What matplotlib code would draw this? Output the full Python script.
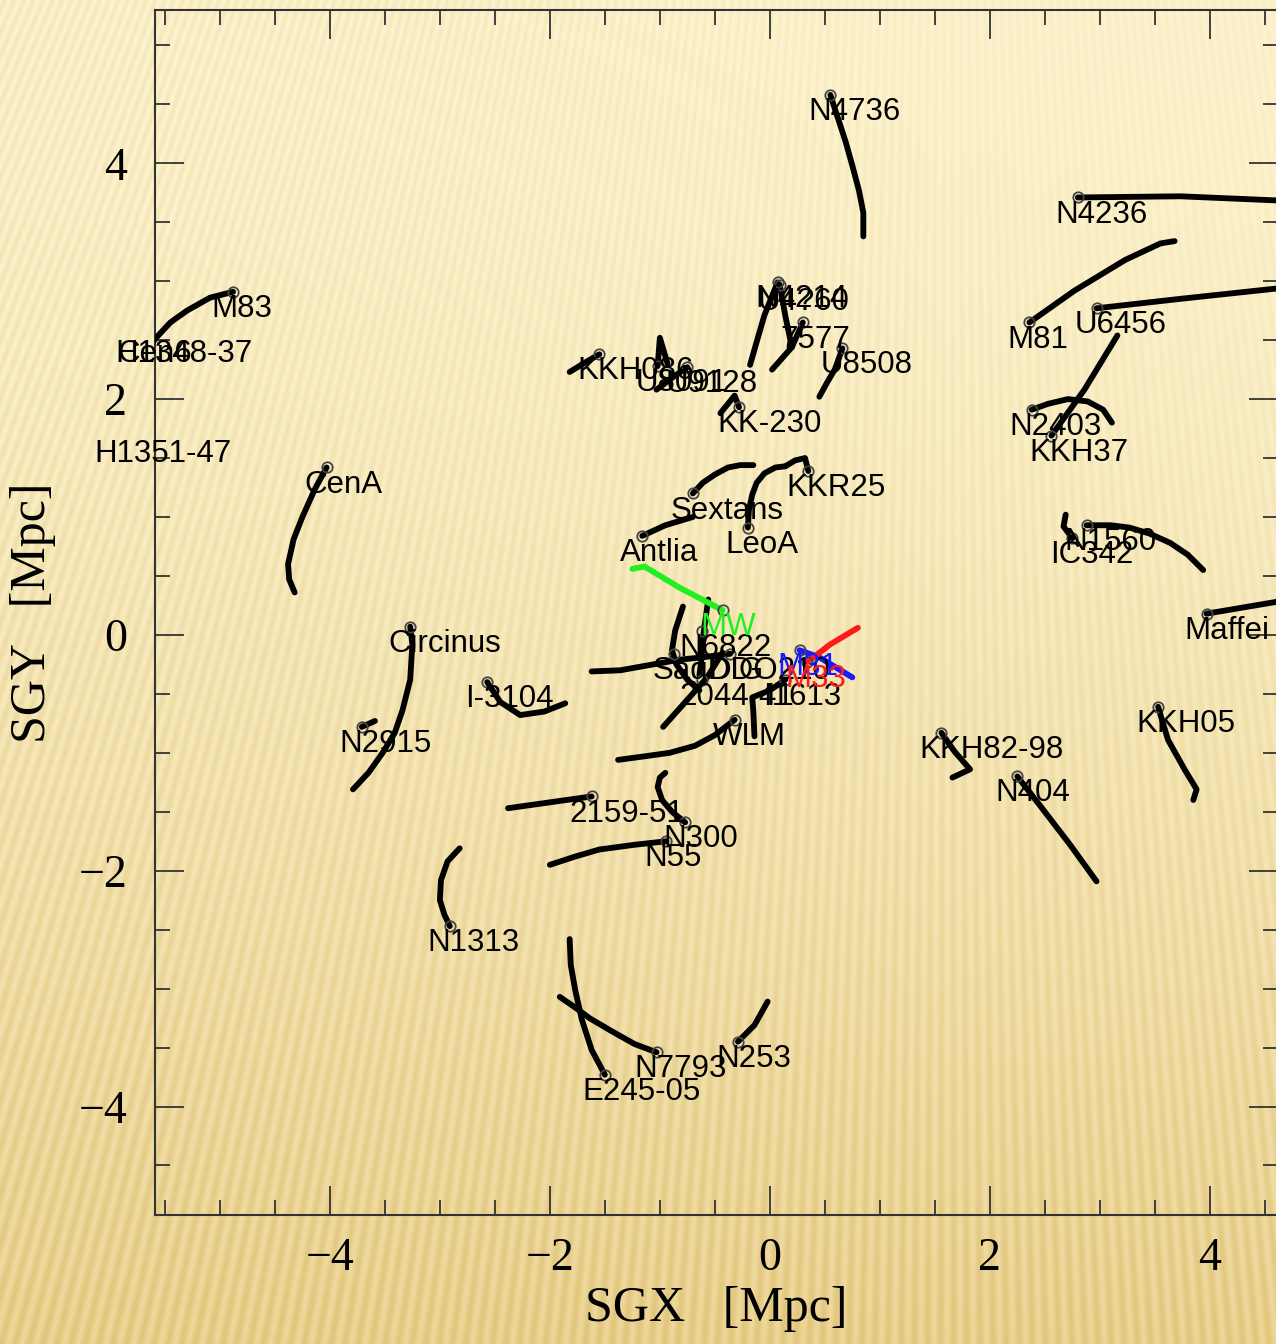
import numpy as np
import matplotlib
matplotlib.use("Agg")
import matplotlib.pyplot as plt

# present positions (circles) in supergalactic coords [Mpc]
present = {
    "N4736": (0.55, 4.58), "N4236": (2.80, 3.71), "M81": (2.36, 2.65), "U6456": (2.97, 2.77),
    "N2403": (2.38, 1.91), "KKH37": (2.56, 1.69), "IC342": (2.75, 0.82), "N1560": (2.88, 0.93),
    "Maffei": (3.97, 0.18), "KKH05": (3.53, -0.61), "KKH82-98": (1.56, -0.83),
    "N404": (2.25, -1.20), "N253": (-0.29, -3.45), "N7793": (-1.03, -3.54),
    "E245-05": (-1.50, -3.73), "N1313": (-2.91, -2.47), "N55": (-0.94, -1.75),
    "N300": (-0.77, -1.59), "2159-51": (-1.62, -1.37), "WLM": (-0.32, -0.72),
    "M83": (-4.88, 2.91), "CenA": (-4.03, 1.42), "Circinus": (-3.27, 0.07),
    "N2915": (-3.71, -0.78), "I-3104": (-2.57, -0.40), "Antlia": (-1.16, 0.84),
    "Sextans": (-0.70, 1.20), "LeoA": (-0.20, 0.91), "KKR25": (0.35, 1.39),
    "KK-230": (-0.28, 1.93), "U8508": (0.66, 2.43), "7577": (0.30, 2.65),
    "N4214": (0.07, 2.99), "U4?60": (0.09, 2.97), "U9128": (-0.75, 2.27),
    "KKH086": (-1.55, 2.38), "U8091": (-1.02, 2.28), "Cen6": (-5.73, 2.53),
    "H1348-37": (-5.75, 2.53), "H1351-47": (-5.94, 1.68), "N6822": (-0.62, 0.03),
    "SagDIG": (-0.87, -0.16), "DDO210": (-0.36, -0.16), "2044-41": (-0.62, -0.38),
    "I1613": (0.14, -0.38),
}

# orbits back in time
orbits = {
    "N4736": [(0.55, 4.58), (0.62, 4.38), (0.69, 4.18), (0.75, 3.98), (0.81, 3.77),
              (0.85, 3.58), (0.85, 3.38)],
    "N4236": [(2.80, 3.71), (3.73, 3.72), (4.73, 3.68)],
    "M81": [(2.36, 2.65), (2.77, 2.92), (3.23, 3.18), (3.55, 3.32), (3.68, 3.34)],
    "U6456": [(2.97, 2.77), (3.73, 2.85), (4.73, 2.95)],
    "N2403": [(2.38, 1.91), (2.53, 1.96), (2.71, 2.00), (2.89, 1.98), (3.03, 1.91),
              (3.11, 1.80)],
    "KKH37": [(2.56, 1.69), (2.86, 2.08), (3.16, 2.54)],
    "IC342": [(2.75, 0.82), (2.67, 0.92), (2.69, 1.02)],
    "N1560": [(2.88, 0.93), (3.10, 0.93), (3.27, 0.91), (3.45, 0.86), (3.64, 0.78),
              (3.80, 0.68), (3.94, 0.55)],
    "Maffei": [(3.97, 0.18), (4.73, 0.30)],
    "KKH05": [(3.53, -0.61), (3.62, -0.89), (3.77, -1.14), (3.88, -1.31), (3.85, -1.40)],
    "KKH82-98": [(1.56, -0.83), (1.68, -0.99), (1.82, -1.14), (1.66, -1.21)],
    "N404": [(2.25, -1.20), (2.45, -1.44), (2.73, -1.78), (2.97, -2.09)],
    "N253": [(-0.29, -3.45), (-0.14, -3.31), (-0.02, -3.11)],
    "N7793": [(-1.03, -3.54), (-1.23, -3.47), (-1.44, -3.36), (-1.64, -3.25),
              (-1.77, -3.16), (-1.91, -3.07)],
    "E245-05": [(-1.50, -3.73), (-1.62, -3.52), (-1.71, -3.26), (-1.77, -3.01),
                (-1.81, -2.80), (-1.82, -2.58)],
    "N1313": [(-2.91, -2.47), (-2.96, -2.37), (-3.00, -2.25), (-2.99, -2.08),
              (-2.93, -1.92), (-2.82, -1.81)],
    "N55": [(-0.94, -1.75), (-1.23, -1.78), (-1.55, -1.82), (-1.77, -1.88), (-2.00, -1.95)],
    "N300": [(-0.77, -1.59), (-0.89, -1.50), (-0.98, -1.40), (-1.02, -1.29),
             (-1.00, -1.21), (-0.95, -1.17)],
    "2159-51": [(-1.62, -1.37), (-2.00, -1.42), (-2.38, -1.47)],
    "WLM": [(-0.32, -0.72), (-0.50, -0.85), (-0.68, -0.94), (-0.91, -1.00),
            (-1.14, -1.03), (-1.38, -1.06)],
    "M83": [(-4.88, 2.91), (-5.09, 2.86), (-5.30, 2.75), (-5.45, 2.65), (-5.57, 2.53),
            (-5.70, 2.38)],
    "CenA": [(-4.03, 1.42), (-4.14, 1.23), (-4.25, 1.00), (-4.33, 0.81), (-4.38, 0.60),
             (-4.37, 0.47), (-4.32, 0.36)],
    "Circinus": [(-3.27, 0.07), (-3.25, -0.08), (-3.27, -0.38), (-3.34, -0.64),
                 (-3.41, -0.83), (-3.52, -1.00), (-3.65, -1.17), (-3.79, -1.31)],
    "N2915": [(-3.71, -0.78), (-3.59, -0.73)],
    "I-3104": [(-2.57, -0.40), (-2.45, -0.57), (-2.27, -0.68), (-2.05, -0.65), (-1.86, -0.58)],
    "Antlia": [(-1.16, 0.84), (-0.95, 0.93), (-0.70, 1.00)],
    "Sextans": [(-0.70, 1.20), (-0.61, 1.29), (-0.50, 1.36), (-0.38, 1.42), (-0.27, 1.44),
                (-0.15, 1.44)],
    "LeoA": [(-0.20, 0.91), (-0.19, 1.06), (-0.16, 1.19), (-0.12, 1.29), (-0.05, 1.37),
             (0.05, 1.42), (0.14, 1.43)],
    "KKR25": [(0.35, 1.39), (0.32, 1.50), (0.23, 1.48), (0.14, 1.43)],
    "KK-230": [(-0.28, 1.93), (-0.32, 2.03), (-0.45, 1.88)],
    "U8508": [(0.66, 2.43), (0.59, 2.25), (0.52, 2.14), (0.45, 2.02)],
    "7577": [(0.30, 2.65), (0.20, 2.44), (0.02, 2.25)],
    "N4214": [(0.07, 2.99), (-0.05, 2.71), (-0.18, 2.29)],
    "U4?60": [(0.09, 2.97), (0.14, 2.71), (0.20, 2.44)],
    "U9128": [(-0.75, 2.27), (-0.89, 2.18), (-1.03, 2.08)],
    "KKH086": [(-1.55, 2.38), (-1.68, 2.31), (-1.82, 2.23)],
    "U8091": [(-1.02, 2.28), (-1.00, 2.52), (-0.93, 2.30)],
    "N6822": [(-0.56, 0.30), (-0.59, 0.10), (-0.61, -0.04), (-0.62, -0.19), (-0.64, -0.34)],
    "SagDIG": [(-0.79, 0.24), (-0.86, 0.04), (-0.89, -0.13), (-0.85, -0.25), (-0.75, -0.38),
               (-0.64, -0.47)],
    "DDO210": [(-0.36, -0.16), (-0.61, -0.19), (-0.82, -0.21), (-1.06, -0.25),
               (-1.36, -0.30), (-1.62, -0.31)],
    "2044-41": [(-0.97, -0.78), (-0.75, -0.55), (-0.57, -0.36), (-0.43, -0.15)],
    "I1613": [(0.14, -0.38), (0.00, -0.47), (-0.16, -0.53), (-0.15, -0.65), (-0.14, -0.86)],
}

# Local Group giants drawn in colour
mw_orbit = [(-0.43, 0.21), (-0.82, 0.40), (-1.14, 0.58), (-1.25, 0.56)]
m31_orbit = [(0.27, -0.13), (0.45, -0.19), (0.59, -0.27), (0.75, -0.36)]
m33_orbit = [(0.34, -0.23), (0.55, -0.08), (0.80, 0.06)]

xticks_major = [-4, -2, 0, 2, 4]
yticks_major = [-4, -2, 0, 2, 4]

W, H = 1276, 1344
fig = plt.figure(figsize=(W / 100, H / 100), dpi=100)

# slide background: warm gradient with faint fan of stripes
bg = fig.add_axes([0, 0, 1, 1], zorder=-10)
yy, xx = np.mgrid[0:H, 0:W].astype(float)
t = (yy / H) ** 1.6
top = np.array([253, 243, 206]) / 255
bot = np.array([237, 214, 152]) / 255
base = top[None, None, :] * (1 - t[..., None]) + bot[None, None, :] * t[..., None]
ang = np.arctan2(xx - 950, yy + 2200)
stripe = np.sin(ang / 0.0037 * 2 * np.pi) * 0.5 + 0.5
amp = 0.02 + 0.06 * t + 0.035 * (1 - xx / W) * (1 - t)
img = base - (amp * stripe)[..., None] * np.array([0.6, 0.8, 1.4])
bg.imshow(np.clip(img, 0, 1), aspect="auto", interpolation="bilinear")
bg.axis("off")

ax = fig.add_axes([155 / W, 1 - 1215 / H, 1123 / W, 1205 / H])
ax.patch.set_alpha(0)
ax.set_xlim(-5.59, 4.62)
ax.set_ylim(-4.92, 5.30)

lab_kw = dict(fontsize=22.5, family="Liberation Sans", va="center", ha="left", zorder=5)
dx, dy = -0.20, -0.145

for name, (px, py) in present.items():
    pts = np.array(orbits.get(name, []))
    if len(pts) > 1:
        ax.plot(pts[:, 0], pts[:, 1], color="black", lw=4.2, solid_capstyle="round",
                solid_joinstyle="round", zorder=3)
    ax.plot(px, py, "o", ms=7.5, mfc="none", mec="#444444", mew=1.3, zorder=4)
    ax.text(px + dx, py + dy, name, color="black", **lab_kw)

for pts, col, name in [(mw_orbit, "#22ee22", "MW"), (m31_orbit, "#1a1aff", "M31"),
                       (m33_orbit, "#ff1a1a", "M33")]:
    pts = np.array(pts)
    ax.plot(pts[:, 0], pts[:, 1], color=col, lw=4.2, solid_capstyle="round", zorder=4)
    ax.plot(pts[0, 0], pts[0, 1], "o", ms=7.5, mfc="none", mec="#444444", mew=1.3, zorder=4)
    ax.text(pts[0, 0] + dx, pts[0, 1] + dy, name, color=col, **lab_kw)

ax.set_xticks(xticks_major)
ax.set_yticks(yticks_major)
ax.set_xticks(np.arange(-5.5, 4.6, 0.5), minor=True)
ax.set_yticks(np.arange(-4.5, 5.3, 0.5), minor=True)
ax.tick_params(which="both", direction="in", top=True, right=True, color="#333333", width=1.3)
ax.tick_params(which="major", length=21, labelsize=33)
ax.tick_params(axis="x", which="major", pad=16)
ax.tick_params(axis="y", which="major", pad=20)
ax.tick_params(which="minor", length=11)
for lbl in ax.get_xticklabels() + ax.get_yticklabels():
    lbl.set_family("Liberation Serif")
for sp in ax.spines.values():
    sp.set_color("#333333")
    sp.set_linewidth(1.5)

ax.set_xlabel("SGX   [Mpc]", family="Liberation Serif", fontsize=36, labelpad=4)
ax.set_ylabel("SGY   [Mpc]", family="Liberation Serif", fontsize=36, labelpad=16)

fig.savefig("out.png", dpi=100)
